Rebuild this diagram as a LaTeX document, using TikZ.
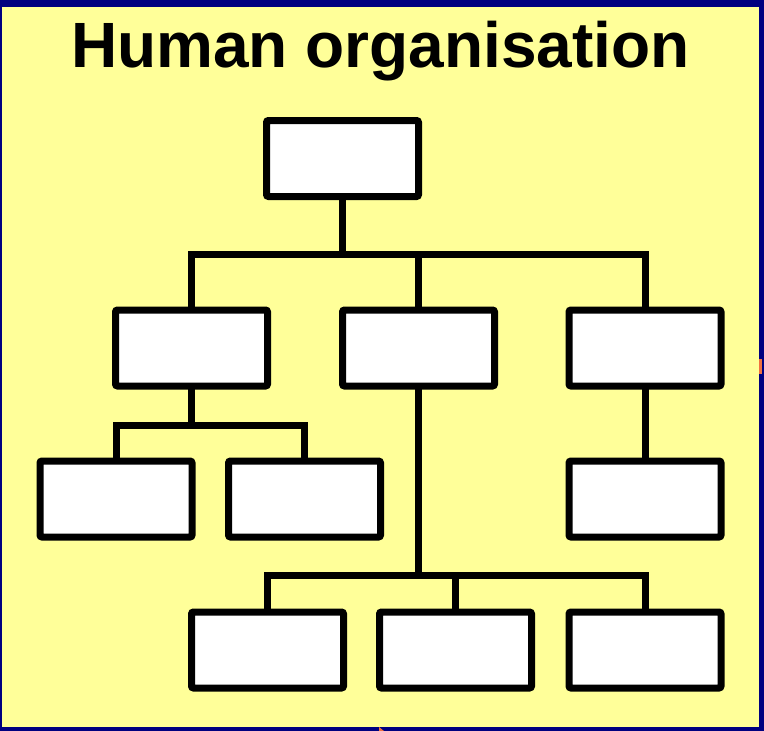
\documentclass[tikz,border=0pt]{standalone}
\usepackage{fontspec}
\setmainfont{Liberation Sans}
\definecolor{bgyellow}{HTML}{FFFF99}
\definecolor{navyframe}{HTML}{000080}
\definecolor{markorange}{HTML}{F07040}
\begin{document}
\begin{tikzpicture}[x=1pt,y=-1pt,
  orgbox/.style={draw=black,fill=white,line width=7pt,rounded corners=2pt,
    minimum width=152pt,minimum height=76pt,inner sep=0pt,outer sep=0pt},
  link/.style={draw=black,line width=7pt,line join=miter}]
\useasboundingbox (0,0) rectangle (764,731);
\fill[navyframe] (0,0) rectangle (764,731);
\fill[bgyellow] (2,7) rectangle (759,727);
\fill[markorange] (759,359) rectangle (762,374);
\fill[markorange] (379,727) -- (384,731) -- (379,731) -- cycle;
\node[anchor=base,font=\bfseries\fontsize{64}{64}\selectfont] (title) at (380.5,67) {Human organisation};
% boxes
\node[orgbox] (top) at (342.5,158.5) {};
\node[orgbox] (l2a) at (191.5,348) {};
\node[orgbox] (l2b) at (418.5,348) {};
\node[orgbox] (l2c) at (645,348) {};
\node[orgbox] (l3a) at (116,499) {};
\node[orgbox] (l3b) at (304.5,499) {};
\node[orgbox] (l3c) at (645,499) {};
\node[orgbox] (l4a) at (267.5,650) {};
\node[orgbox] (l4b) at (455.5,650) {};
\node[orgbox] (l4c) at (645,650) {};
% buses
\coordinate (bus1) at (342.5,254);
\coordinate (bus2) at (191.5,425);
\coordinate (bus3) at (418.5,575);
\draw[link] (top.south) -- (top.south |- bus1);
\draw[link] (l2a.north) -- (l2a.north |- bus1) -- (l2c.north |- bus1) -- (l2c.north);
\draw[link] (l2b.north) -- (l2b.north |- bus1);
\draw[link] (l2a.south) -- (bus2);
\draw[link] (l3a.north) -- (l3a.north |- bus2) -- (l3b.north |- bus2) -- (l3b.north);
\draw[link] (l2b.south) -- (bus3);
\draw[link] (l4a.north) -- (l4a.north |- bus3) -- (l4c.north |- bus3) -- (l4c.north);
\draw[link] (l4b.north) -- (l4b.north |- bus3);
\draw[link] (l2c.south) -- (l3c.north);
\end{tikzpicture}
\end{document}
